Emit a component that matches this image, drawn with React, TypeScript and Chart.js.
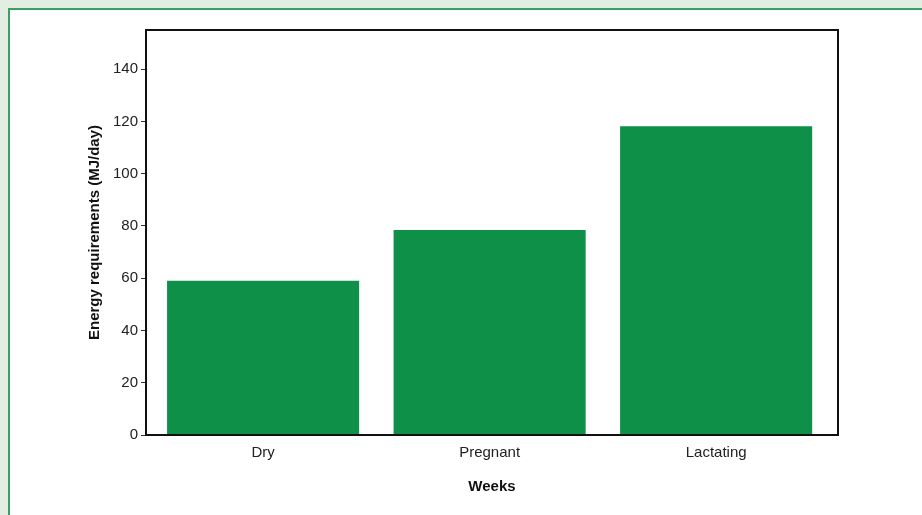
import React, { useEffect, useRef } from "react";
import { Chart, registerables } from "chart.js";

Chart.register(...registerables);

const categories = ["Dry", "Pregnant", "Lactating"];
const energyValues = [59, 78.5, 118.2];
const yTickValues = [0, 20, 40, 60, 80, 100, 120, 140];

const FONT = "'Liberation Sans', Arial, sans-serif";

const frame = {
  id: "frame",
  afterDatasetsDraw(chart: any) {
    const { ctx, chartArea: a } = chart;
    ctx.save();
    ctx.strokeStyle = "#111";
    ctx.lineWidth = 2;
    ctx.strokeRect(a.left, a.top, a.right - a.left, a.bottom - a.top);
    ctx.restore();
  },
};

export default function App() {
  const ref = useRef<HTMLCanvasElement>(null);
  useEffect(() => {
    const chart = new Chart(ref.current!, {
      type: "bar",
      data: {
        datasets: [
          {
            data: energyValues.map((v, i) => ({ x: i, y: v })),
            backgroundColor: "#0f9048",
            borderWidth: 0,
            barPercentage: 1,
            categoryPercentage: 0.848,
          },
        ],
      },
      plugins: [frame],
      options: {
        animation: false,
        responsive: false,
        maintainAspectRatio: false,
        layout: { padding: { left: 82, top: 30, right: 84, bottom: 15 } },
        plugins: { legend: { display: false }, tooltip: { enabled: false } },
        font: { family: FONT },
        scales: {
          x: {
            type: "linear",
            min: -0.517,
            max: 2.538,
            offset: false,
            grid: { display: false, drawTicks: false },
            border: { display: true, color: "#111", width: 2 },
            afterBuildTicks: (s: any) => {
              s.ticks = categories.map((_, i) => ({ value: i }));
            },
            ticks: {
              color: "#222",
              padding: 9,
              font: { size: 15, family: FONT },
              callback: (v: any) => categories[Math.round(Number(v))] ?? "",
            },
            title: {
              display: true,
              text: "Weeks",
              color: "#111",
              font: { size: 15, weight: "bold", family: FONT },
              padding: { top: 4, bottom: 4 },
            },
            afterFit: (s: any) => {
              s.height = 65;
            },
          },
          y: {
            min: 0,
            max: 155,
            grid: { drawOnChartArea: false, drawTicks: true, tickLength: 5, color: "#333" },
            border: { display: true, color: "#111", width: 2 },
            ticks: {
              color: "#222",
              padding: 3,
              font: { size: 15, family: FONT },
            },
            afterBuildTicks: (s: any) => {
              s.ticks = yTickValues.map((v) => ({ value: v }));
            },
            title: {
              display: true,
              text: "Energy requirements (MJ/day)",
              color: "#111",
              font: { size: 15, weight: "bold", family: FONT },
              padding: { top: 4, bottom: 4 },
            },
            afterFit: (s: any) => {
              s.width = 64;
            },
          },
        },
      },
    } as any);
    return () => chart.destroy();
  }, []);

  return (
    <div
      style={{
        position: "fixed",
        left: 0,
        top: 0,
        width: 922,
        height: 515,
        background: "#e3eee3",
        overflow: "hidden",
      }}
    >
      <div
        style={{
          position: "absolute",
          left: 8,
          top: 8,
          width: 940,
          height: 540,
          background: "#ffffff",
          borderLeft: "2px solid #3c9f62",
          borderTop: "2px solid #3c9f62",
        }}
      />
      <canvas
        ref={ref}
        width={922}
        height={515}
        style={{ position: "absolute", left: 0, top: 0, width: 922, height: 515 }}
      />
    </div>
  );
}
